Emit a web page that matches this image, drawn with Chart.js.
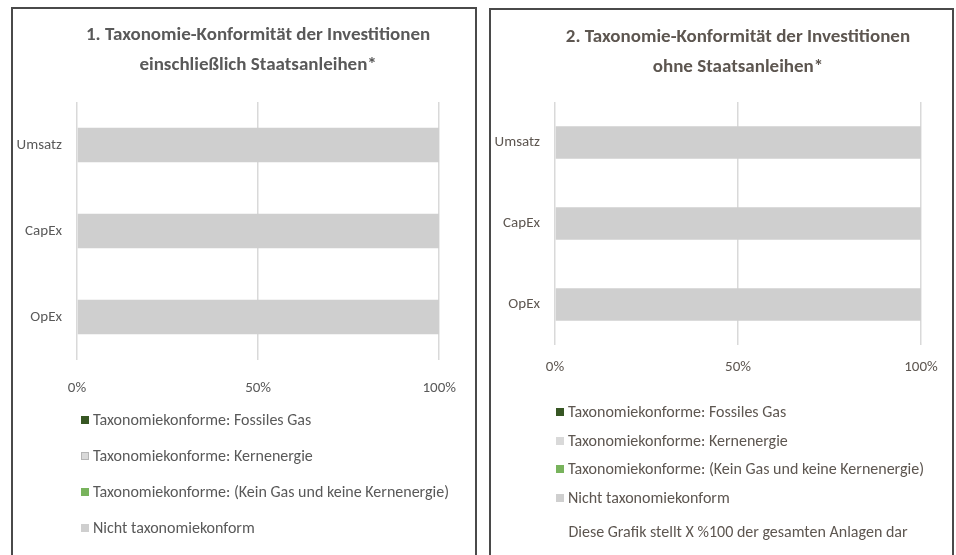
<!DOCTYPE html>
<html lang="de">
<head>
<meta charset="utf-8">
<script src="https://cdn.jsdelivr.net/npm/chart.js@4.4.1/dist/chart.umd.min.js"></script>
<style>
  html, body { margin: 0; padding: 0; background: #fff; overflow: hidden; }
  .panel { position: absolute; border: 2px solid #4a4a4a; border-bottom: none; background: #fff; }
  #p1 { left: 11px; top: 7px; width: 462px; height: 560px; }
  #p2 { left: 489px; top: 8px; width: 461px; height: 560px; }
  canvas { display: block; }
</style>
</head>
<body>
<div class="panel" id="p1"><canvas id="chart1" width="462" height="546"></canvas></div>
<div class="panel" id="p2"><canvas id="chart2" width="461" height="545"></canvas></div>

<script>
// Kategorien und Werte (Anteil in %)
const categories = ["Umsatz", "CapEx", "OpEx"];
const seriesLabels = [
  "Taxonomiekonforme: Fossiles Gas",
  "Taxonomiekonforme: Kernenergie",
  "Taxonomiekonforme: (Kein Gas und keine Kernenergie)",
  "Nicht taxonomiekonform"
];
const seriesColors = ["#375623", "#d9d9d9", "#78b35c", "#cfcfcf"];

// 1. einschließlich Staatsanleihen
const withBonds = [
  [0, 0, 0],
  [0, 0, 0],
  [0, 0, 0],
  [100, 100, 100]
];
// 2. ohne Staatsanleihen
const withoutBonds = [
  [0, 0, 0],
  [0, 0, 0],
  [0, 0, 0],
  [100, 100, 100]
];

const xTicks = [0, 50, 100];
const title1 = ["1. Taxonomie-Konformität der Investitionen", "einschließlich Staatsanleihen*"];
const title2 = ["2. Taxonomie-Konformität der Investitionen", "ohne Staatsanleihen*"];
const note2 = "Diese Grafik stellt X %100 der gesamten Anlagen dar";

const FONT = "Carlito, Lato, sans-serif";

// Legende untereinander, unterhalb der x-Achse
const stackedLegend = {
  id: "stackedLegend",
  afterDraw(chart, args, o) {
    const ctx = chart.ctx;
    const xs = chart.scales.x;
    const x0 = xs.left + o.dx;
    ctx.save();
    ctx.font = "16px " + FONT;
    ctx.textBaseline = "middle";
    ctx.textAlign = "left";
    chart.data.datasets.forEach((ds, i) => {
      const y = Math.round(xs.bottom + o.top + i * o.gap);
      ctx.fillStyle = ds.backgroundColor;
      ctx.fillRect(x0, y - 4, 8, 8);
      if (o.outline && o.outline.includes(i)) {
        ctx.strokeStyle = "#b5b5b5";
        ctx.lineWidth = 1;
        ctx.strokeRect(x0 + 0.5, y - 3.5, 7, 7);
      }
      ctx.fillStyle = o.color;
      ctx.fillText(ds.label, x0 + 12, y + 1);
    });
    if (o.note) {
      const y = xs.bottom + o.top + chart.data.datasets.length * o.gap + o.noteGap;
      ctx.textAlign = "center";
      ctx.fillText(o.note, (xs.left + xs.right) / 2, y);
    }
    ctx.restore();
  }
};

function makeChart(id, values, title, opt) {
  const canvas = document.getElementById(id);
  return new Chart(canvas.getContext("2d"), {
    type: "bar",
    data: {
      labels: categories,
      datasets: seriesLabels.map((label, i) => ({
        label,
        data: values[i],
        backgroundColor: seriesColors[i],
        borderWidth: 0,
        categoryPercentage: 0.8,
        barPercentage: 0.5
      }))
    },
    options: {
      indexAxis: "y",
      responsive: false,
      animation: false,
      events: [],
      layout: { padding: { top: 0, left: 0, right: opt.padRight, bottom: opt.padBottom } },
      plugins: {
        legend: { display: false },
        tooltip: { enabled: false },
        title: {
          display: true,
          fullSize: false,
          text: title,
          color: opt.color,
          font: { family: FONT, size: 19, weight: "bold", lineHeight: "30px" },
          padding: { top: opt.titleTop, bottom: opt.titleBottom }
        },
        stackedLegend: {
          dx: opt.legendDx, top: opt.legendTop, gap: opt.legendGap,
          color: opt.color, outline: opt.outline, note: opt.note, noteGap: opt.noteGap
        }
      },
      scales: {
        x: {
          stacked: true,
          min: 0,
          max: 100,
          afterBuildTicks: s => { s.ticks = xTicks.map(v => ({ value: v })); },
          afterFit: s => { s.height = opt.xHeight; },
          ticks: {
            color: opt.color,
            padding: opt.xPad,
            font: { family: FONT, size: 15 },
            callback: v => v + "%"
          },
          grid: { color: "#d9d9d9", lineWidth: 1.5, drawTicks: false },
          border: { display: false }
        },
        y: {
          stacked: true,
          afterFit: s => { s.width = 64; },
          ticks: { color: opt.color, padding: 15, font: { family: FONT, size: 15 } },
          grid: { display: false, drawTicks: false },
          border: { display: false }
        }
      }
    },
    plugins: [stackedLegend]
  });
}

makeChart("chart1", withBonds, title1, {
  color: "#595959", padRight: 34, padBottom: 158, xHeight: 37, xPad: 19,
  titleTop: 11, titleBottom: 22,
  legendDx: 4, legendTop: 23, legendGap: 36, outline: [1]
});

makeChart("chart2", withoutBonds, title2, {
  color: "#5d5650", padRight: 31, padBottom: 179, xHeight: 31, xPad: 13,
  titleTop: 12, titleBottom: 20,
  legendDx: 1, legendTop: 36, legendGap: 28.5, note: note2, noteGap: 7
});
</script>
</body>
</html>
